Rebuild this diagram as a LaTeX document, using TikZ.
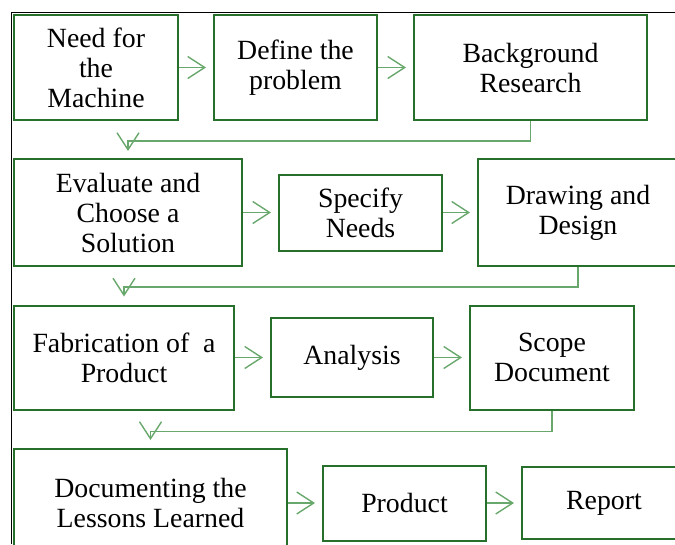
\documentclass[tikz,border=0pt]{standalone}
\usepackage{fontspec}
\setmainfont{Liberation Serif}
\usetikzlibrary{arrows.meta,calc}
\definecolor{boxgreen}{RGB}{38,112,44}
\definecolor{linkgreen}{RGB}{105,168,108}
\begin{document}
\begin{tikzpicture}[x=1pt,y=-1pt,
  stage/.style={draw=boxgreen,line width=2pt,align=center,inner sep=0pt,
    font=\fontsize{27.8}{30}\selectfont},
  conn/.style={draw=linkgreen,line width=1.4pt,
    -{Straight Barb[length=17pt,width=22pt,line width=1.4pt]}},
  hop/.style={conn,shorten >=7pt},
  frameline/.style={line width=1.2pt,black}]
\useasboundingbox (0,0) rectangle (675,544);

% outer frame (top and left edges)
\draw[frameline] (11,12.5) -- (675,12.5);
\draw[frameline] (11.5,12.5) -- (11.5,544);

% row 1
\node[stage,minimum width=164pt,minimum height=105pt] (need) at (96,67.5) {Need for\\the\\Machine};
\node[stage,minimum width=163pt,minimum height=105pt] (define) at (295.5,67.5) {Define the\\problem};
\node[stage,minimum width=233pt,minimum height=105pt] (bg) at (530.5,67.5) {Background\\Research};

% row 2
\node[stage,minimum width=228pt,minimum height=107pt] (eval) at (128,212.5) {Evaluate and\\Choose a\\Solution};
\node[stage,minimum width=163pt,minimum height=76pt] (spec) at (360.5,212.5) {Specify\\Needs};
\node[stage,minimum width=200pt,minimum height=107pt] (drawing) at (578,212.5) {Drawing and\\Design};

% row 3
\node[stage,minimum width=220pt,minimum height=104pt] (fab) at (124,357.5) {Fabrication of\ \ a\\Product};
\node[stage,minimum width=162pt,minimum height=79pt] (ana) at (352,357.5) {Analysis};
\node[stage,minimum width=164pt,minimum height=104pt] (scope) at (552,357.5) {Scope\\Document};

% row 4
\node[stage,minimum width=273pt,minimum height=108pt] (doc) at (150.5,503) {Documenting the\\Lessons Learned};
\node[stage,minimum width=163pt,minimum height=75pt] (prod) at (404.5,503) {Product};
\node[stage,minimum width=164pt,minimum height=72pt] (report) at (604,503) {Report};

% arrows within rows
\draw[hop] (need) -- (define);
\draw[hop] (define) -- (bg);
\draw[hop] (eval) -- (spec);
\draw[hop] (spec) -- (drawing);
\draw[hop] (fab) -- (ana);
\draw[hop] (ana) -- (scope);
\draw[hop] (doc) -- (prod);
\draw[hop] (prod) -- (report);

% returns to the next row
\draw[conn] (bg.south) -- ++(0,20) -| ([yshift=7pt]eval.north);
\draw[conn] (drawing.south) -- ++(0,20) -| ([yshift=8pt]fab.north);
\draw[conn] (scope.south) -- ++(0,21) -| ([yshift=8pt]doc.north);
\end{tikzpicture}
\end{document}
